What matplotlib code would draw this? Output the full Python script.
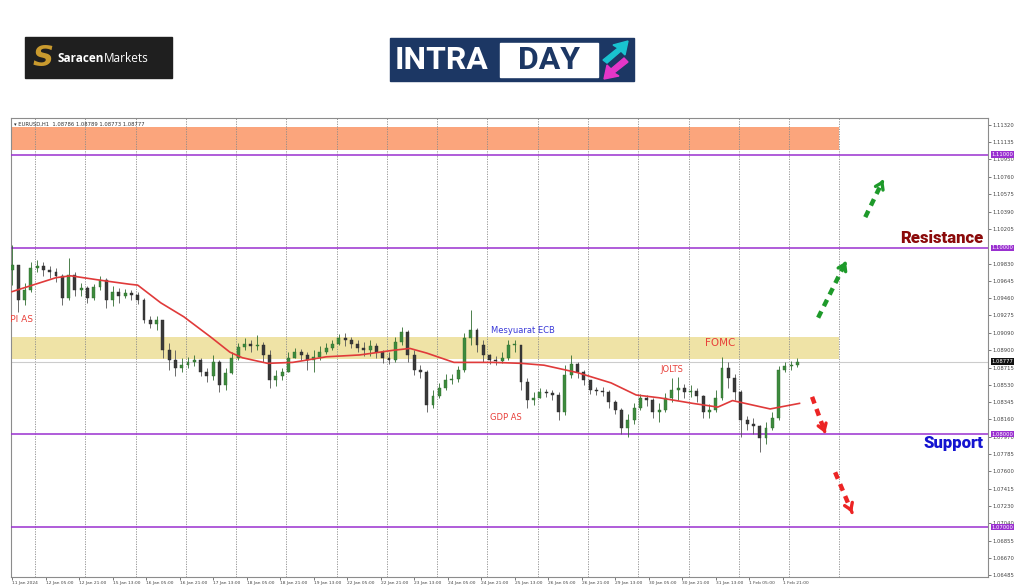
import matplotlib
matplotlib.use("Agg")
import matplotlib.pyplot as plt
from matplotlib.patches import Rectangle, Polygon
from matplotlib.transforms import blended_transform_factory
import numpy as np

# EURUSD H1, resampled to 3-hour candles
bar_hours = 3
first_open = 1.0976
closes = [1.0982, 1.0944, 1.0955, 1.0978, 1.0981, 1.0976, 1.0974, 1.0970, 1.0946, 1.0971,
          1.0955, 1.0957, 1.0946, 1.0958, 1.0966, 1.0944, 1.0953, 1.0948, 1.0952, 1.0949,
          1.0944, 1.0923, 1.0918, 1.0923, 1.0890, 1.0880, 1.0871, 1.0874, 1.0877, 1.0880,
          1.0867, 1.0862, 1.0877, 1.0853, 1.0866, 1.0882, 1.0894, 1.0897, 1.0895, 1.0896,
          1.0885, 1.0858, 1.0862, 1.0867, 1.0882, 1.0888, 1.0885, 1.0880, 1.0883, 1.0888,
          1.0892, 1.0897, 1.0903, 1.0901, 1.0897, 1.0892, 1.0890, 1.0895, 1.0888, 1.0882,
          1.0880, 1.0899, 1.0910, 1.0885, 1.0869, 1.0867, 1.0831, 1.0841, 1.0850, 1.0858,
          1.0859, 1.0869, 1.0903, 1.0912, 1.0896, 1.0885, 1.0880, 1.0879, 1.0882, 1.0896,
          1.0896, 1.0856, 1.0837, 1.0839, 1.0845, 1.0844, 1.0842, 1.0824, 1.0863, 1.0875,
          1.0867, 1.0858, 1.0847, 1.0846, 1.0845, 1.0835, 1.0826, 1.0807, 1.0815, 1.0828,
          1.0839, 1.0837, 1.0824, 1.0826, 1.0839, 1.0847, 1.0850, 1.0845, 1.0846, 1.0841,
          1.0824, 1.0826, 1.0839, 1.0871, 1.0860, 1.0845, 1.0815, 1.0811, 1.0809, 1.0796,
          1.0807, 1.0817, 1.0869, 1.0873, 1.0874, 1.08777]
highs = [1.1003, 1.0978, 1.0962, 1.0985, 1.0987, 1.0985, 1.0981, 1.0978, 1.0972, 1.0989,
         1.0974, 1.0962, 1.0959, 1.0961, 1.0970, 1.0968, 1.0959, 1.0957, 1.0956, 1.0955,
         1.0953, 1.0946, 1.0927, 1.0927, 1.0923, 1.0898, 1.0890, 1.0882, 1.0883, 1.0885,
         1.0882, 1.0871, 1.0885, 1.0880, 1.0871, 1.0888, 1.0898, 1.0903, 1.0901, 1.0906,
         1.0899, 1.0890, 1.0869, 1.0871, 1.0888, 1.0892, 1.0891, 1.0888, 1.0890, 1.0895,
         1.0898, 1.0901, 1.0908, 1.0909, 1.0904, 1.0901, 1.0899, 1.0901, 1.0898, 1.0890,
         1.0888, 1.0904, 1.0915, 1.0912, 1.0890, 1.0874, 1.0869, 1.0847, 1.0855, 1.0864,
         1.0865, 1.0873, 1.0909, 1.0933, 1.0914, 1.0901, 1.0886, 1.0884, 1.0888, 1.0901,
         1.0901, 1.0896, 1.0860, 1.0845, 1.0850, 1.0848, 1.0847, 1.0845, 1.0874, 1.0885,
         1.0877, 1.0869, 1.0856, 1.0851, 1.0851, 1.0847, 1.0837, 1.0828, 1.0822, 1.0833,
         1.0843, 1.0842, 1.0839, 1.0833, 1.0844, 1.0860, 1.0861, 1.0854, 1.0853, 1.0850,
         1.0842, 1.0832, 1.0847, 1.0883, 1.0877, 1.0864, 1.0847, 1.0819, 1.0817, 1.0810,
         1.0813, 1.0824, 1.0873, 1.0877, 1.0878, 1.0882]
lows = [1.0960, 1.0931, 1.0939, 1.0953, 1.0974, 1.0970, 1.0968, 1.0963, 1.0939, 1.0944,
        1.0948, 1.0948, 1.0941, 1.0944, 1.0955, 1.0935, 1.0938, 1.0941, 1.0946, 1.0944,
        1.0940, 1.0919, 1.0914, 1.0912, 1.0882, 1.0869, 1.0862, 1.0867, 1.0871, 1.0873,
        1.0862, 1.0856, 1.0858, 1.0845, 1.0847, 1.0865, 1.0880, 1.0890, 1.0888, 1.0890,
        1.0877, 1.0850, 1.0852, 1.0858, 1.0867, 1.0882, 1.0880, 1.0869, 1.0867, 1.0880,
        1.0886, 1.0890, 1.0896, 1.0895, 1.0892, 1.0888, 1.0884, 1.0884, 1.0882, 1.0876,
        1.0875, 1.0877, 1.0896, 1.0877, 1.0863, 1.0860, 1.0824, 1.0828, 1.0839, 1.0847,
        1.0854, 1.0856, 1.0867, 1.0896, 1.0888, 1.0877, 1.0875, 1.0874, 1.0876, 1.0880,
        1.0888, 1.0847, 1.0828, 1.0831, 1.0840, 1.0840, 1.0837, 1.0815, 1.0821, 1.0860,
        1.0860, 1.0853, 1.0843, 1.0842, 1.0841, 1.0828, 1.0822, 1.0800, 1.0797, 1.0811,
        1.0826, 1.0830, 1.0817, 1.0813, 1.0824, 1.0835, 1.0837, 1.0839, 1.0840, 1.0835,
        1.0817, 1.0817, 1.0824, 1.0837, 1.0850, 1.0837, 1.0797, 1.0804, 1.0800, 1.0781,
        1.0789, 1.0804, 1.0815, 1.0867, 1.0869, 1.0872]

# moving average (red line), hour index vs price
ma_hours = [0, 21, 28, 43, 56, 60, 71, 82, 95, 104, 110, 122, 134, 150, 166, 182, 190,
            198, 211, 230, 243, 254, 270, 286, 298, 309, 325, 337, 344, 362, 376]
ma_price = [1.0953, 1.0968, 1.0970, 1.0965, 1.0961, 1.0960, 1.0941, 1.0926, 1.0904,
            1.0888, 1.0882, 1.0876, 1.0877, 1.0883, 1.0885, 1.0890, 1.0892, 1.0887,
            1.0877, 1.0877, 1.0876, 1.0874, 1.0866, 1.0855, 1.0842, 1.0839, 1.0833,
            1.0829, 1.0836, 1.0827, 1.0833]

time_labels = ["11 Jan 2024", "12 Jan 05:00", "12 Jan 21:00", "15 Jan 13:00", "16 Jan 05:00",
               "16 Jan 21:00", "17 Jan 13:00", "18 Jan 05:00", "18 Jan 21:00", "19 Jan 13:00",
               "22 Jan 05:00", "22 Jan 21:00", "23 Jan 13:00", "24 Jan 05:00", "24 Jan 21:00",
               "25 Jan 13:00", "26 Jan 05:00", "26 Jan 21:00", "29 Jan 13:00", "30 Jan 05:00",
               "30 Jan 21:00", "31 Jan 13:00", "1 Feb 05:00", "1 Feb 21:00"]
label_step = 16
price_ticks = [1.11320, 1.11135, 1.10950, 1.10760, 1.10575, 1.10390, 1.10205, 1.09830,
               1.09645, 1.09460, 1.09275, 1.09090, 1.08900, 1.08715, 1.08530, 1.08345,
               1.08160, 1.07970, 1.07785, 1.07600, 1.07415, 1.07230, 1.07040, 1.06855,
               1.06670, 1.06485]
levels = [1.11000, 1.10000, 1.08000, 1.07000]
last_price = 1.08777
supply_zone = (1.1105, 1.1130)
demand_zone = (1.0881, 1.0904)
zone_end = 395

events = [("CPI AS", 10, 1.0923, "#e8403a", 6.5, "right"),
          ("Mesyuarat ECB", 244, 1.0911, "#3a3ad8", 6, "center"),
          ("GDP AS", 236, 1.0818, "#e8403a", 6, "center"),
          ("JOLTS", 315, 1.0869, "#e8403a", 6, "center"),
          ("FOMC", 338, 1.0898, "#e8403a", 7.5, "center")]

# scenario arrows: start hour, start price, end hour, end price
arrows_up = [(384.9, 1.0925, 398.8, 1.0988), (407.4, 1.1033, 416.0, 1.1073)]
arrows_down = [(382.0, 1.0840, 388.3, 1.0801), (393.0, 1.0759, 401.6, 1.0713)]

fig = plt.figure(figsize=(10.24, 5.87), dpi=100)
fig.patch.set_facecolor("white")

# ---- header logos (pixel space) ----
hdr = fig.add_axes([0, 0, 1, 1], zorder=0)
hdr.set_xlim(0, 1024)
hdr.set_ylim(587, 0)
hdr.axis("off")
hdr.add_patch(Rectangle((25, 37), 147, 41, color="#1f1f1f"))
hdr.text(43, 58, "S", color="#c99a2e", fontsize=21, fontweight="bold", fontstyle="italic",
         ha="center", va="center", family="DejaVu Sans")
hdr.text(58, 58, "Saracen", color="white", fontsize=8.5, fontweight="bold", va="center",
         family="Open Sans")
hdr.text(104, 58, "Markets", color="white", fontsize=8.5, va="center", family="Open Sans")

hdr.add_patch(Rectangle((390, 38), 244, 43, color="#1c3764"))
hdr.text(395, 60, "INTRA", color="white", fontsize=23, fontweight="bold", va="center",
         family="Roboto")
hdr.add_patch(Rectangle((500, 43), 98, 34, facecolor="white", edgecolor="white"))
hdr.text(549, 60, "DAY", color="#1c3764", fontsize=23, fontweight="bold", va="center",
         ha="center", family="Roboto")
hdr.add_patch(Polygon([[603, 60], [618, 48], [613, 45], [628, 41], [625, 55], [621, 51], [607, 63]],
                      color="#19c3d0"))
hdr.add_patch(Polygon([[628, 62], [614, 73], [619, 76], [604, 79], [607, 65], [611, 69], [624, 58]],
                      color="#e436c8"))

# ---- price chart ----
ax = fig.add_axes([11 / 1024, 10 / 587, 977 / 1024, 459 / 587], zorder=1)
ax.set_xlim(-0.5, 466)
ax.set_ylim(1.06465, 1.11395)

hours = np.arange(len(closes)) * bar_hours
closes = np.array(closes)
opens = np.concatenate([[first_open], closes[:-1]])
hi = np.maximum(np.array(highs), np.maximum(opens, closes))
lo = np.minimum(np.array(lows), np.minimum(opens, closes))

# zones
ax.add_patch(Rectangle((-0.5, supply_zone[0]), zone_end + 0.5, supply_zone[1] - supply_zone[0],
                       color="#fba57c", zorder=1, lw=0))
ax.add_patch(Rectangle((-0.5, demand_zone[0]), zone_end + 0.5, demand_zone[1] - demand_zone[0],
                       color="#efe3a6", zorder=1, lw=0))

# day separators
for d in range(11, zone_end + 1, 24):
    ax.axvline(d, color="#8a8a8a", lw=0.6, ls=(0, (1.5, 1.5)), zorder=2)

for lv in levels:
    ax.axhline(lv, color="#9a30d0", lw=1.1, zorder=3)
ax.axhline(last_price, color="#cccccc", lw=0.8, zorder=2)

# candles
up = closes >= opens
ax.vlines(hours, lo, hi, color=np.where(up, "#2f6b2f", "#555555"), lw=0.6, zorder=4)
body = np.where(np.abs(closes - opens) < 0.00004, 0.00004, closes - opens)
ax.bar(hours, body, bottom=opens, width=1.4, color=np.where(up, "#3d8b3d", "#3a3a3a"),
       edgecolor=np.where(up, "#2f6b2f", "#2a2a2a"), lw=0.3, zorder=5)

ax.plot(ma_hours, ma_price, color="#e03a3a", lw=1.2, zorder=6)

for txt, h, p, c, fs, ha in events:
    ax.text(h, p, txt, color=c, fontsize=fs, ha=ha, va="center", zorder=7, clip_on=True)

ax.text(464, 1.1011, "Resistance", color="#8b0a0a", fontsize=12, fontweight="black",
        ha="right", va="center", family="Roboto", zorder=7)
ax.text(464, 1.0790, "Support", color="#1414d0", fontsize=12, fontweight="black",
        ha="right", va="center", family="Roboto", zorder=7)

for h0, p0, h1, p1 in arrows_up + arrows_down:
    col = "#1e9a2a" if p1 > p0 else "#ec2424"
    hs = h1 - (h1 - h0) * 0.12
    ps = p1 - (p1 - p0) * 0.12
    ax.plot([h0, hs], [p0, ps], color=col, lw=3.2, ls=(0, (1.6, 1.3)),
            solid_capstyle="butt", zorder=8)
    ax.annotate("", xy=(h1, p1), xytext=(hs, ps),
                arrowprops=dict(arrowstyle="->,head_length=0.45,head_width=0.3",
                                color=col, lw=2.4), zorder=8)

ax.text(0.003, 0.992, "\u25be EURUSD,H1  1.08786 1.08789 1.08773 1.08777",
        transform=ax.transAxes, fontsize=3.8, va="top", ha="left", color="#333333", zorder=9)

# axes styling
for s in ax.spines.values():
    s.set_color("#8c8c8c")
    s.set_linewidth(0.8)
ax.yaxis.tick_right()
ax.set_yticks(price_ticks)
ax.set_yticklabels([f"{v:.5f}" for v in price_ticks])
ax.tick_params(axis="y", labelsize=3.8, length=2, pad=1.5, colors="#444444", width=0.5)
ax.set_xticks(np.arange(len(time_labels)) * label_step)
ax.set_xticklabels(time_labels)
for lbl in ax.get_xticklabels():
    lbl.set_ha("left")
ax.tick_params(axis="x", labelsize=3.2, length=2, pad=1, colors="#444444", width=0.5)

tr = blended_transform_factory(ax.transAxes, ax.transData)
for lv in levels:
    ax.text(1.0035, lv, f"{lv:.5f}", transform=tr, fontsize=3.8, color="white", va="center",
            ha="left", bbox=dict(boxstyle="square,pad=0.15", fc="#9a30d0", ec="none"),
            zorder=10, clip_on=False)
ax.text(1.0035, last_price, f"{last_price:.5f}", transform=tr, fontsize=3.8, color="white",
        va="center", ha="left", bbox=dict(boxstyle="square,pad=0.15", fc="#111111", ec="none"),
        zorder=10, clip_on=False)

fig.savefig("out.png", dpi=100)
